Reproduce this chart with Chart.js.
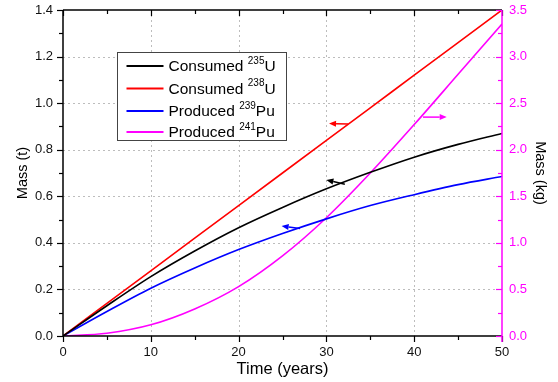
<!DOCTYPE html>
<html>
<head>
<meta charset="utf-8">
<script src="https://cdn.jsdelivr.net/npm/chart.js@4.4.0/dist/chart.umd.min.js"></script>
<style>
html,body{margin:0;padding:0;background:#fff;}
#wrap{width:558px;height:382px;position:relative;}
</style>
</head>
<body>
<div id="wrap"><canvas id="c" width="558" height="382"></canvas></div>
<script>
// ---- data ----
const years  = [0, 5, 10, 15, 20, 25, 30, 35, 40, 45, 50];
const u235   = [0, 0.13, 0.255, 0.365, 0.465, 0.552, 0.632, 0.703, 0.768, 0.823, 0.87];
const u238   = [0, 0.14, 0.28, 0.42, 0.56, 0.70, 0.84, 0.98, 1.12, 1.26, 1.40];
const pu239  = [0, 0.105, 0.205, 0.292, 0.371, 0.44, 0.503, 0.56, 0.607, 0.65, 0.685];
const pu241  = [0, 0.03, 0.12, 0.29, 0.53, 0.86, 1.27, 1.75, 2.27, 2.81, 3.35]; // kg, right axis

const seriesNames = ['Consumed ', 'Consumed ', 'Produced ', 'Produced '];
const seriesIso   = ['235', '238', '239', '241'];
const seriesElem  = ['U', 'U', 'Pu', 'Pu'];
const seriesColors = ['#000000', '#ff0000', '#0000ff', '#ff00ff'];

const leftTicks  = [0, 0.2, 0.4, 0.6, 0.8, 1.0, 1.2, 1.4];
const rightTicks = [0, 0.5, 1.0, 1.5, 2.0, 2.5, 3.0, 3.5];
const xTicks     = [0, 10, 20, 30, 40, 50];

// arrows pointing to the axis each curve belongs to (data units)
const arrowX1   = [32.1, 32.5, 27.0, 41.0];
const arrowY1   = [0.652, 0.91, 0.462, 2.35];
const arrowX2   = [30.0, 30.3, 24.9, 43.7];
const arrowY2   = [0.670, 0.913, 0.472, 2.35];
const arrowAxis = ['y', 'y', 'y', 'y1'];

const pts = (xs, ys) => xs.map((x, i) => ({x: x, y: ys[i]}));

const ds = (label, data, color, axis) => ({
  label: label, data: data, borderColor: color, backgroundColor: color,
  borderWidth: 1.6, pointRadius: 0, cubicInterpolationMode: 'monotone',
  yAxisID: axis, fill: false
});

const FONT = "'Liberation Sans', Arial, sans-serif";

const gridPlugin = {
  id: 'dashGrid',
  beforeDatasetsDraw(chart) {
    const ctx = chart.ctx, a = chart.chartArea;
    const xs = chart.scales.x, ys = chart.scales.y;
    ctx.save();
    ctx.strokeStyle = '#bdbdbd'; ctx.lineWidth = 1; ctx.setLineDash([2, 3]);
    xTicks.forEach(v => {
      if (v <= xs.min || v >= xs.max) return;
      const px = Math.round(xs.getPixelForValue(v)) + 0.5;
      ctx.beginPath(); ctx.moveTo(px, a.top); ctx.lineTo(px, a.bottom); ctx.stroke();
    });
    leftTicks.forEach(v => {
      if (v <= ys.min || v >= ys.max) return;
      const py = Math.round(ys.getPixelForValue(v)) + 0.5;
      ctx.beginPath(); ctx.moveTo(a.left, py); ctx.lineTo(a.right, py); ctx.stroke();
    });
    ctx.restore();
  }
};

const overlay = {
  id: 'overlay',
  afterDatasetsDraw(chart) {
    const ctx = chart.ctx;
    const a = chart.chartArea;
    const xs = chart.scales.x, ys = chart.scales.y, y1 = chart.scales.y1;
    ctx.save();
    // arrows
    for (let i = 0; i < arrowX1.length; i++) {
      const sc = chart.scales[arrowAxis[i]];
      const px1 = xs.getPixelForValue(arrowX1[i]), py1 = sc.getPixelForValue(arrowY1[i]);
      const px2 = xs.getPixelForValue(arrowX2[i]), py2 = sc.getPixelForValue(arrowY2[i]);
      const col = seriesColors[i];
      ctx.strokeStyle = col; ctx.fillStyle = col; ctx.lineWidth = 1.5;
      const ang = Math.atan2(py2 - py1, px2 - px1);
      const hl = 7, hw = 3;
      const bx = px2 - hl * Math.cos(ang), by = py2 - hl * Math.sin(ang);
      ctx.beginPath(); ctx.moveTo(px1, py1); ctx.lineTo(bx, by); ctx.stroke();
      ctx.beginPath();
      ctx.moveTo(px2, py2);
      ctx.lineTo(bx + hw * Math.sin(ang), by - hw * Math.cos(ang));
      ctx.lineTo(bx - hw * Math.sin(ang), by + hw * Math.cos(ang));
      ctx.closePath(); ctx.fill();
    }
    // frame / axes
    ctx.lineWidth = 1.5;
    ctx.strokeStyle = '#000';
    ctx.beginPath();
    ctx.moveTo(a.left, a.top); ctx.lineTo(a.left, a.bottom);
    ctx.moveTo(a.left, a.bottom); ctx.lineTo(a.right, a.bottom);
    ctx.moveTo(a.left, a.top); ctx.lineTo(a.right, a.top);
    ctx.stroke();
    // x ticks bottom (outward) and top (inward)
    ctx.lineWidth = 1.2;
    for (let v = 0; v <= 50; v += 5) {
      const px = Math.round(xs.getPixelForValue(v)) + 0.5;
      const len = (v % 10 === 0) ? 6 : 4;
      ctx.beginPath();
      ctx.moveTo(px, a.bottom); ctx.lineTo(px, a.bottom + len);
      ctx.moveTo(px, a.top); ctx.lineTo(px, a.top + len);
      ctx.stroke();
    }
    // left ticks (outward)
    for (let k = 0; k <= 14; k++) {
      const py = Math.round(ys.getPixelForValue(k / 10)) + 0.5;
      const len = (k % 2 === 0) ? 6 : 4;
      ctx.beginPath(); ctx.moveTo(a.left, py); ctx.lineTo(a.left - len, py); ctx.stroke();
    }
    // right axis magenta, ticks inward
    ctx.strokeStyle = '#ff00ff';
    ctx.lineWidth = 1.5;
    ctx.beginPath(); ctx.moveTo(a.right, a.top); ctx.lineTo(a.right, a.bottom + 6); ctx.stroke();
    ctx.lineWidth = 1.2;
    for (let k = 0; k <= 14; k++) {
      const py = Math.round(y1.getPixelForValue(k * 0.25)) + 0.5;
      const len = (k % 2 === 0) ? 6 : 4;
      ctx.beginPath(); ctx.moveTo(a.right, py); ctx.lineTo(a.right - len, py); ctx.stroke();
    }
    // legend
    const lx = a.left + 54.5, ly = a.top + 42.5, lw = 169, lh = 88;
    ctx.fillStyle = '#fff';
    ctx.fillRect(lx, ly, lw, lh);
    ctx.strokeStyle = '#444'; ctx.lineWidth = 1;
    ctx.strokeRect(lx, ly, lw, lh);
    const rowY = [ly + 13.5, ly + 36, ly + 58.5, ly + 79.5];
    for (let i = 0; i < 4; i++) {
      const yy = rowY[i];
      ctx.strokeStyle = seriesColors[i]; ctx.lineWidth = 1.8;
      ctx.beginPath(); ctx.moveTo(lx + 9, yy); ctx.lineTo(lx + 46, yy); ctx.stroke();
      ctx.fillStyle = '#000';
      ctx.textBaseline = 'middle'; ctx.textAlign = 'left';
      let tx = lx + 51;
      ctx.font = '15.5px ' + FONT;
      ctx.fillText(seriesNames[i], tx, yy + 1);
      tx += ctx.measureText(seriesNames[i]).width;
      ctx.font = '10px ' + FONT;
      ctx.fillText(seriesIso[i], tx, yy - 5);
      tx += ctx.measureText(seriesIso[i]).width;
      ctx.font = '15.5px ' + FONT;
      ctx.fillText(seriesElem[i], tx, yy + 1);
    }
    ctx.restore();
  }
};

new Chart(document.getElementById('c'), {
  type: 'line',
  data: {
    datasets: [
      ds('Consumed 235U', pts(years, u235), seriesColors[0], 'y'),
      ds('Consumed 238U', pts(years, u238), seriesColors[1], 'y'),
      ds('Produced 239Pu', pts(years, pu239), seriesColors[2], 'y'),
      ds('Produced 241Pu', pts(years, pu241), seriesColors[3], 'y1')
    ]
  },
  options: {
    responsive: false,
    animation: false,
    devicePixelRatio: 1,
    layout: {padding: {left: 0, right: 0, top: 10, bottom: 0}},
    plugins: {legend: {display: false}, tooltip: {enabled: false}},
    scales: {
      x: {
        type: 'linear', min: 0, max: 50,
        afterBuildTicks: s => { s.ticks = xTicks.map(v => ({value: v})); },
        afterFit: s => { s.height = 46; s.paddingLeft = 0; s.paddingRight = 0; },
        ticks: {color: '#111', font: {size: 13, family: FONT}, padding: 9, maxRotation: 0},
        grid: {display: false, drawTicks: false},
        border: {display: false},
        title: {display: true, text: 'Time (years)', color: '#000',
                font: {size: 16.5, family: FONT}, padding: {top: 0, bottom: 3}}
      },
      y: {
        position: 'left', min: 0, max: 1.4,
        afterBuildTicks: s => { s.ticks = leftTicks.map(v => ({value: v})); },
        afterFit: s => { s.width = 63; s.paddingTop = 0; s.paddingBottom = 0; },
        ticks: {color: '#111', font: {size: 13, family: FONT}, padding: 10,
                callback: v => Number(v).toFixed(1)},
        grid: {display: false, drawTicks: false},
        border: {display: false},
        title: {display: true, text: 'Mass (t)', color: '#000',
                font: {size: 14.5, family: FONT}, padding: {top: 14.5, bottom: 0}}
      },
      y1: {
        position: 'right', min: 0, max: 3.5,
        afterBuildTicks: s => { s.ticks = rightTicks.map(v => ({value: v})); },
        afterFit: s => { s.width = 56; s.paddingTop = 0; s.paddingBottom = 0; },
        ticks: {color: '#ff00ff', font: {size: 13, family: FONT}, padding: 7,
                callback: v => Number(v).toFixed(1)},
        grid: {display: false, drawTicks: false},
        border: {display: false},
        title: {display: true, text: 'Mass (kg)', color: '#000',
                font: {size: 14.5, family: FONT}, padding: {top: 9.3, bottom: 0}}
      }
    }
  },
  plugins: [gridPlugin, overlay]
});
</script>
</body>
</html>
